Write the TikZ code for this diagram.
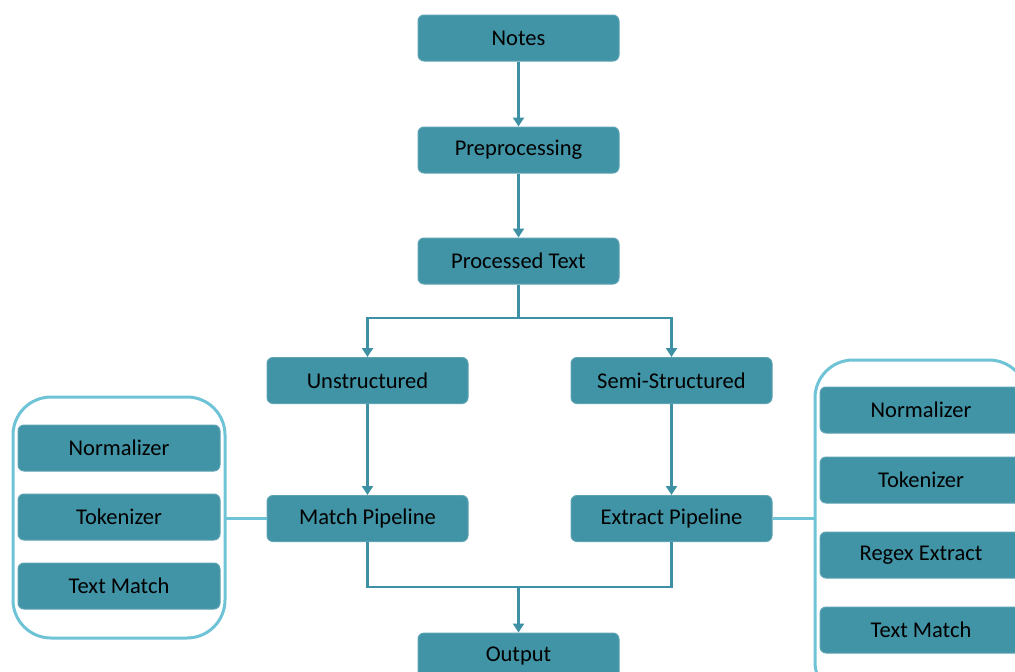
\documentclass[tikz,border=0pt]{standalone}
\usepackage{fontspec}
\setmainfont{Carlito}
\usetikzlibrary{arrows.meta,positioning,calc}
\definecolor{boxfill}{HTML}{4193A6}
\definecolor{linec}{HTML}{3E90A4}
\definecolor{contc}{HTML}{6FC3D6}
\tikzset{
  box/.style={draw=boxfill!85!white, line width=1pt, fill=boxfill, rounded corners=6pt,
    minimum width=201pt, minimum height=46pt, inner sep=0pt, font=\fontsize{22.5}{26}\selectfont, text=black},
  conn/.style={draw=linec, line width=2.6pt},
  arr/.style={conn, -{Triangle[width=11pt,length=9pt]}},
  cont/.style={draw=contc, line width=3pt, rounded corners=38pt}
}
\begin{document}
\begin{tikzpicture}[x=1pt,y=-1pt]
\useasboundingbox (0,0) rectangle (1015,672);
\clip (0,0) rectangle (1015,672);
\node[box] (notes) at (518.5,38) {Notes};
\node[box] (pre) at (518.5,150) {Preprocessing};
\node[box] (proc) at (518.5,261) {Processed Text};
\node[box] (uns) at (367.5,380.5) {Unstructured};
\node[box] (semi) at (671.5,380.5) {Semi-Structured};
\node[box] (match) at (367.5,518.5) {Match Pipeline};
\node[box] (extract) at (671.5,518.5) {Extract Pipeline};
\node[box] (out) at (518.5,656) {Output};
% left container
\draw[cont] (13,397) rectangle (225,638);
\coordinate (lc) at (225,518.5);
\node[box, minimum width=202pt] (ln) at (119,448) {Normalizer};
\node[box, minimum width=202pt] (lt) at (119,517) {Tokenizer};
\node[box, minimum width=202pt] (lm) at (119,586) {Text Match};
% right container
\draw[cont] (815,360) rectangle (1027,700);
\coordinate (rc) at (815,518.5);
\node[box, minimum width=202pt] (rn) at (921,410) {Normalizer};
\node[box, minimum width=202pt] (rt) at (921,480) {Tokenizer};
\node[box, minimum width=202pt] (rr) at (921,555) {Regex Extract};
\node[box, minimum width=202pt] (rm) at (921,630) {Text Match};
% connectors
\draw[arr] (notes) -- (pre);
\draw[arr] (pre) -- (proc);
\coordinate (split) at (518.5,318);
\draw[conn] (proc.south) -- (split);
\draw[arr] (split) -| (uns.north);
\draw[arr] (split) -| (semi.north);
\draw[arr] (uns) -- (match);
\draw[arr] (semi) -- (extract);
\coordinate (join) at (518.5,587);
\draw[conn] (match.south) |- (join) -| (extract.south);
\draw[arr] (join) -- (out.north);
\draw[conn, draw=contc] (lc) -- (match.west);
\draw[conn, draw=contc] (extract.east) -- (rc);
\end{tikzpicture}
\end{document}
